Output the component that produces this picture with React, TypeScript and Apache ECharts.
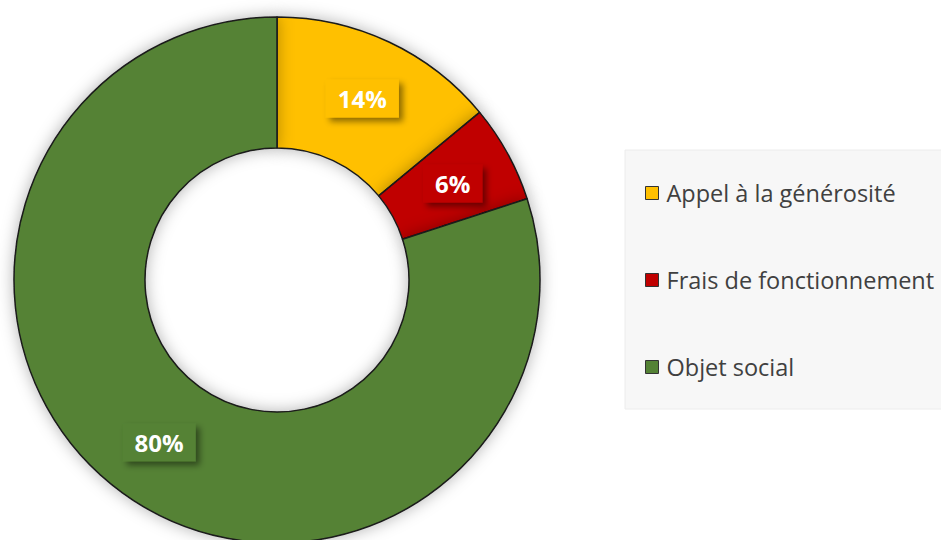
import React, { useEffect, useRef } from "react";
import * as echarts from "echarts";

const categories = ["Appel à la générosité", "Frais de fonctionnement", "Objet social"];
const values = [14, 6, 80];
const colors = ["#FFC000", "#C00000", "#548235"];

export default function App() {
  const ref = useRef<HTMLDivElement>(null);
  useEffect(() => {
    document.body.style.margin = "0";
    const chart = echarts.init(ref.current!, null, { renderer: "svg" });
    chart.setOption({
      animation: false,
      backgroundColor: "#ffffff",
      legend: {
        orient: "vertical",
        left: 625,
        top: 150,
        padding: [31, 40, 30, 20],
        itemGap: 63,
        itemWidth: 13,
        itemHeight: 13,
        icon: "rect",
        backgroundColor: "#f7f7f7",
        borderColor: "#ececec",
        borderWidth: 1,
        selectedMode: false,
        itemStyle: { borderColor: "#333333", borderWidth: 1 },
        textStyle: {
          fontFamily: "Open Sans",
          fontSize: 23.5,
          color: "#404040",
          padding: [0, 0, 0, 3],
        },
        data: categories,
      },
      series: [
        {
          type: "pie",
          center: [277, 280],
          radius: [132, 263],
          startAngle: 90,
          clockwise: true,
          avoidLabelOverlap: false,
          label: {
            show: true,
            position: "inside",
            formatter: "{d}%",
            color: "#ffffff",
            fontFamily: "Open Sans",
            fontWeight: "bold",
            fontSize: 24,
            padding: [8, 12, 6, 12],
            backgroundColor: "inherit",
            shadowColor: "rgba(0,0,0,0.45)",
            shadowBlur: 6,
            shadowOffsetX: 4,
            shadowOffsetY: 4,
          },
          labelLine: { show: false },
          emphasis: { disabled: true },
          itemStyle: {
            borderColor: "#1a1a1a",
            borderWidth: 1.5,
            shadowColor: "rgba(0,0,0,0.3)",
            shadowBlur: 16,
          },
          data: categories.map((name, i) => ({
            name,
            value: values[i],
            itemStyle: { color: colors[i] },
            label: { backgroundColor: colors[i] },
          })),
        },
      ],
    });
    return () => chart.dispose();
  }, []);
  return <div ref={ref} style={{ width: 941, height: 540 }} />;
}
